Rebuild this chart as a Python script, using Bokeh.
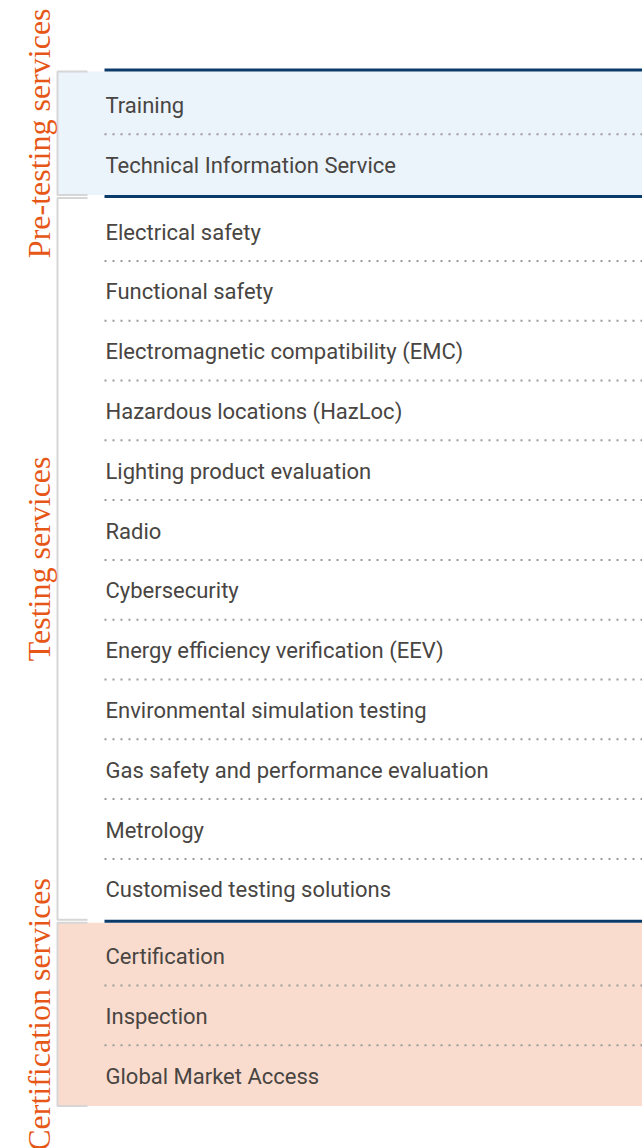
import math
from bokeh.plotting import figure
from bokeh.models import Range1d, ColumnDataSource
from bokeh.core.properties import value
from bokeh.embed import file_html
from bokeh.resources import INLINE

# ---- data ----
groups = ["Pre-testing services", "Testing services", "Certification services"]
pre_services = ["Training", "Technical Information Service"]
testing_services = [
    "Electrical safety",
    "Functional safety",
    "Electromagnetic compatibility (EMC)",
    "Hazardous locations (HazLoc)",
    "Lighting product evaluation",
    "Radio",
    "Cybersecurity",
    "Energy efficiency verification (EEV)",
    "Environmental simulation testing",
    "Gas safety and performance evaluation",
    "Metrology",
    "Customised testing solutions",
]
cert_services = ["Certification", "Inspection", "Global Market Access"]
group_services = [pre_services, testing_services, cert_services]
group_fills = ["#EBF3FB", None, "#F9DCCE"]

# ---- layout constants ----
W, H = 642, 1148
ROW = 59.8
PAD = 4
GAP = 3
TOP = 71
BRACKET_X = 57
TICK_X1 = 87
LINE_X0 = 104
TEXT_X = 105

p = figure(width=W, height=H, x_range=Range1d(0, W), y_range=Range1d(H, 0),
           output_backend="svg", toolbar_location=None, min_border=0)
p.axis.visible = False
p.grid.visible = False
p.outline_line_color = None
p.background_fill_color = "white"
p.border_fill_color = "white"

top = TOP
for gi, (gname, services) in enumerate(zip(groups, group_services)):
    n = len(services)
    bottom = top + PAD + n * ROW
    fill = group_fills[gi]
    if fill:
        p.quad(left=[BRACKET_X], right=[W], top=[top], bottom=[bottom],
               fill_color=fill, line_color=None)
    # bracket
    p.line([TICK_X1, BRACKET_X, BRACKET_X, TICK_X1], [top, top, bottom, bottom],
           line_color="#D6D6D6", line_width=2)
    # navy line at block top
    p.line([LINE_X0, W], [top - 1.5, top - 1.5], line_color="#0B3B6A", line_width=3)
    # dotted separators
    for i in range(n - 1):
        yy = top + PAD / 2 + ROW * (i + 1) + 1
        p.line([LINE_X0, W], [yy, yy], line_color="#9A9A9A", line_width=2,
               line_dash="2 6")
    ys = [top + PAD / 2 + ROW * (i + 0.5) + 2 for i in range(n)]
    src = ColumnDataSource(dict(x=[TEXT_X] * n, y=ys, t=services))
    p.text(x="x", y="y", text="t", source=src, text_font=value("Roboto"),
           text_font_size="22px", text_color="#484542", text_baseline="middle",
           text_align="left")
    # group label
    p.text(x=[38], y=[(top + bottom) / 2], text=[gname], angle=math.pi / 2,
           text_font=value("Liberation Serif"), text_font_size="32px",
           text_color="#E65717", text_align="center", text_baseline="alphabetic")
    top = bottom + GAP

open("out.html", "w").write(file_html(p, INLINE))
